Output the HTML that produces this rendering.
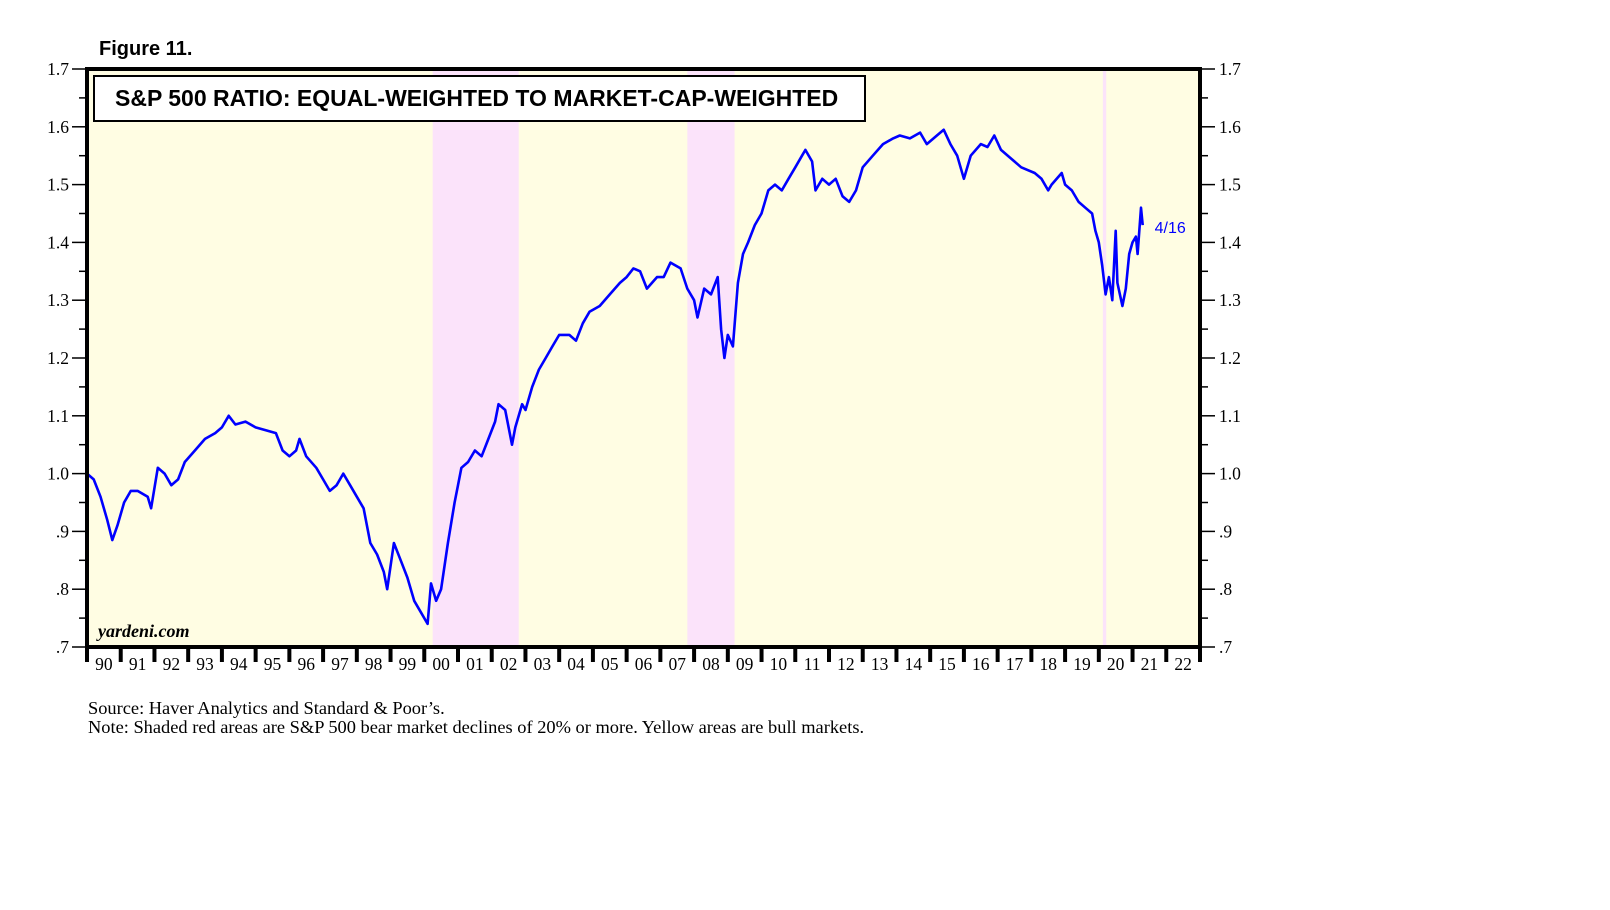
<!DOCTYPE html>
<html><head><meta charset="utf-8"><style>
body{margin:0;background:#fff;}
svg{display:block;}
</style></head><body>
<svg id="c" width="1610" height="910" xmlns="http://www.w3.org/2000/svg"></svg>
<script>
const years=[1990,1990.2,1990.4,1990.6,1990.75,1990.9,1991.1,1991.3,1991.5,1991.8,1991.9,1992.1,1992.3,1992.5,1992.7,1992.9,1993.2,1993.5,1993.8,1994.0,1994.2,1994.4,1994.7,1995.0,1995.3,1995.6,1995.8,1996.0,1996.2,1996.3,1996.5,1996.8,1997.0,1997.2,1997.4,1997.6,1997.8,1998.0,1998.2,1998.4,1998.6,1998.8,1998.9,1999.1,1999.3,1999.5,1999.7,1999.9,2000.1,2000.2,2000.35,2000.5,2000.7,2000.9,2001.0,2001.1,2001.3,2001.5,2001.7,2001.9,2002.1,2002.2,2002.4,2002.6,2002.7,2002.9,2003.0,2003.2,2003.4,2003.6,2003.8,2004.0,2004.3,2004.5,2004.7,2004.9,2005.2,2005.5,2005.8,2006.0,2006.2,2006.4,2006.6,2006.9,2007.1,2007.3,2007.6,2007.8,2008.0,2008.1,2008.3,2008.5,2008.7,2008.8,2008.9,2009.0,2009.15,2009.3,2009.45,2009.6,2009.8,2010.0,2010.2,2010.4,2010.6,2010.8,2011.0,2011.2,2011.3,2011.5,2011.6,2011.8,2012.0,2012.2,2012.4,2012.6,2012.8,2013.0,2013.3,2013.6,2013.9,2014.1,2014.4,2014.7,2014.9,2015.2,2015.4,2015.6,2015.8,2016.0,2016.2,2016.5,2016.7,2016.9,2017.1,2017.3,2017.5,2017.7,2017.9,2018.1,2018.3,2018.5,2018.6,2018.9,2019.0,2019.2,2019.4,2019.6,2019.8,2019.9,2020.0,2020.1,2020.2,2020.3,2020.4,2020.5,2020.55,2020.7,2020.8,2020.9,2021.0,2021.1,2021.15,2021.25,2021.3];
const ratio=[1.00,0.99,0.96,0.92,0.885,0.91,0.95,0.97,0.97,0.96,0.94,1.01,1.00,0.98,0.99,1.02,1.04,1.06,1.07,1.08,1.10,1.085,1.09,1.08,1.075,1.07,1.04,1.03,1.04,1.06,1.03,1.01,0.99,0.97,0.98,1.00,0.98,0.96,0.94,0.88,0.86,0.83,0.80,0.88,0.85,0.82,0.78,0.76,0.74,0.81,0.78,0.80,0.88,0.95,0.98,1.01,1.02,1.04,1.03,1.06,1.09,1.12,1.11,1.05,1.08,1.12,1.11,1.15,1.18,1.20,1.22,1.24,1.24,1.23,1.26,1.28,1.29,1.31,1.33,1.34,1.355,1.35,1.32,1.34,1.34,1.365,1.355,1.32,1.30,1.27,1.32,1.31,1.34,1.25,1.20,1.24,1.22,1.33,1.38,1.40,1.43,1.45,1.49,1.50,1.49,1.51,1.53,1.55,1.56,1.54,1.49,1.51,1.50,1.51,1.48,1.47,1.49,1.53,1.55,1.57,1.58,1.585,1.58,1.59,1.57,1.585,1.595,1.57,1.55,1.51,1.55,1.57,1.565,1.585,1.56,1.55,1.54,1.53,1.525,1.52,1.51,1.49,1.50,1.52,1.50,1.49,1.47,1.46,1.45,1.42,1.40,1.36,1.31,1.34,1.30,1.42,1.33,1.29,1.32,1.38,1.40,1.41,1.38,1.46,1.43];
const bearStart=[2000.25,2007.8,2020.12];
const bearEnd=[2002.8,2009.2,2020.22];
const yTicks=[0.7,0.8,0.9,1.0,1.1,1.2,1.3,1.4,1.5,1.6,1.7];
const yTickLabels=[".7",".8",".9","1.0","1.1","1.2","1.3","1.4","1.5","1.6","1.7"];
const xYears=[1990,1991,1992,1993,1994,1995,1996,1997,1998,1999,2000,2001,2002,2003,2004,2005,2006,2007,2008,2009,2010,2011,2012,2013,2014,2015,2016,2017,2018,2019,2020,2021,2022];

const L=87,R=1200,T=69,B=647;
const X=y=>L+(y-1990)/33*(R-L);
const Y=v=>B-(v-0.7)/1.0*(B-T);
const svg=document.getElementById('c');
const NS='http://www.w3.org/2000/svg';
function el(tag,attrs,parent){const e=document.createElementNS(NS,tag);for(const k in attrs)e.setAttribute(k,attrs[k]);(parent||svg).appendChild(e);return e;}

let bg=el('rect',{x:L,y:T,width:R-L,height:B-T,fill:'#FFFDE3'});


bearStart.forEach((s,i)=>{
  const r=el('rect',{x:X(s),y:T,width:X(bearEnd[i])-X(s),height:B-T,fill:'#FBE3FA'});
  
  
});
let tb=el('rect',{x:94,y:76,width:771,height:45,fill:'#fff',stroke:'#000','stroke-width':2});


let tt=el('text',{x:115,y:106,'font-family':'Liberation Sans, sans-serif','font-weight':'bold','font-size':23,fill:'#000'});
tt.textContent='S&P 500 RATIO: EQUAL-WEIGHTED TO MARKET-CAP-WEIGHTED';


let fg=el('text',{x:99,y:55,'font-family':'Liberation Sans, sans-serif','font-weight':'bold','font-size':20,fill:'#000'});
fg.textContent='Figure 11.';



let d='';
years.forEach((yr,i)=>{d+=(i?'L':'M')+X(yr).toFixed(1)+','+Y(ratio[i]).toFixed(1);});
let ln=el('path',{d:d,fill:'none',stroke:'#0000FF','stroke-width':2.6,'stroke-linejoin':'round'});


let lab=el('text',{x:X(years[years.length-1])+12,y:Y(ratio[ratio.length-1])+8,'font-family':'Liberation Sans, sans-serif','font-size':16,fill:'#0000FF'});
lab.textContent='4/16';



let wm=el('text',{x:98,y:637,'font-family':'Liberation Serif, serif','font-style':'italic','font-weight':'bold','font-size':18,fill:'#000'});
wm.textContent='yardeni.com';



let fr=el('rect',{x:L,y:T,width:R-L,height:B-T,fill:'none',stroke:'#000','stroke-width':4});



for(let v=0.7;v<=1.7001;v+=0.05){
  const major=Math.abs(Math.round(v*10)-v*10)<1e-6;
  const len=major?15:8;
  el('line',{x1:L-len,x2:L,y1:Y(v),y2:Y(v),stroke:'#000','stroke-width':1.5});
  el('line',{x1:R,x2:R+len,y1:Y(v),y2:Y(v),stroke:'#000','stroke-width':1.5});
}
yTicks.forEach((v,i)=>{
  let a=el('text',{x:69,y:Y(v)+6,'text-anchor':'end','font-family':'Liberation Serif, serif','font-size':17.5,fill:'#000'});
  a.textContent=yTickLabels[i];
  
  
  let b=el('text',{x:1219,y:Y(v)+6,'font-family':'Liberation Serif, serif','font-size':17.5,fill:'#000'});
  b.textContent=yTickLabels[i];
  
  
});
xYears.concat([2023]).forEach(yr=>{
  el('line',{x1:X(yr),x2:X(yr),y1:B,y2:B+15,stroke:'#000','stroke-width':4});
});
xYears.forEach(yr=>{
  let t=el('text',{x:X(yr+0.5),y:670,'text-anchor':'middle','font-family':'Liberation Serif, serif','font-size':17.5,fill:'#000'});
  t.textContent=String(yr%100).padStart(2,'0');
  
  
});
let s1=el('text',{x:88,y:714,'font-family':'Liberation Serif, serif','font-size':18.4,fill:'#000'});
s1.textContent='Source: Haver Analytics and Standard & Poor\u2019s.';


let s2=el('text',{x:88,y:733,'font-family':'Liberation Serif, serif','font-size':18.4,fill:'#000'});
s2.textContent='Note: Shaded red areas are S&P 500 bear market declines of 20% or more. Yellow areas are bull markets.';


</script>
</body></html>
